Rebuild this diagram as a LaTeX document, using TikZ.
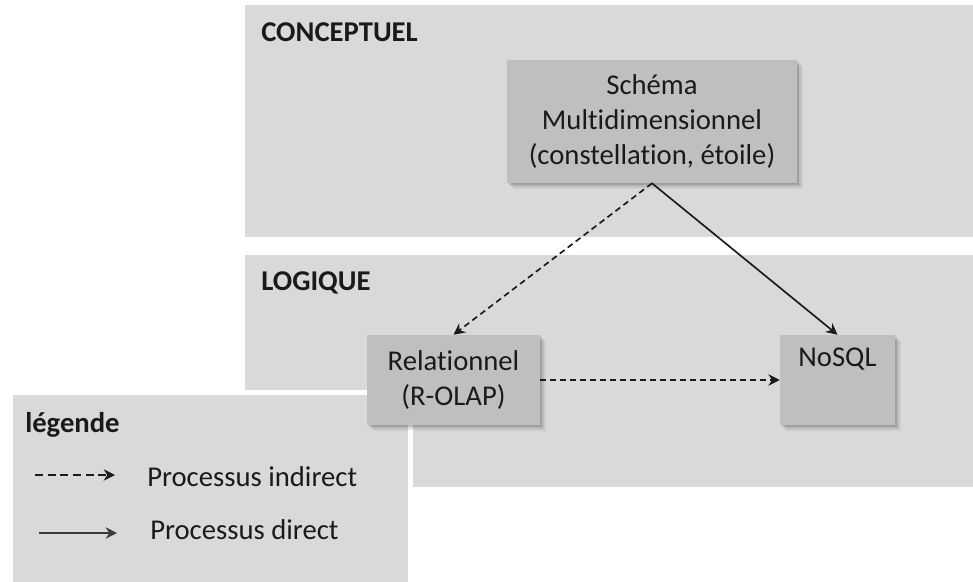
\documentclass[tikz,border=0pt]{standalone}
\usepackage{fontspec}
\setmainfont[Ligatures=NoCommon]{Carlito}
\usetikzlibrary{arrows.meta,shadows}

\definecolor{panelgray}{HTML}{D9D9D9}
\definecolor{boxgray}{HTML}{BFBFBF}
\definecolor{ink}{HTML}{1A1A1A}

\begin{document}
\begin{tikzpicture}[x=0.75pt,y=-0.75pt,
  panel/.style={fill=panelgray},
  paneltitle/.style={anchor=west,inner sep=0pt,text=ink,
    font=\fontsize{21.5}{26}\selectfont\bfseries},
  softshadow/.style={
    general shadow={fill=black,opacity=0.05,shadow xshift=4.2pt,shadow yshift=-4.2pt},
    general shadow={fill=black,opacity=0.09,shadow xshift=3pt,shadow yshift=-3pt},
    general shadow={fill=black,opacity=0.14,shadow xshift=1.8pt,shadow yshift=-1.8pt}},
  model/.style={fill=boxgray,draw=none,inner sep=0pt,align=center,text=ink,
    font=\fontsize{21.5}{26.25}\selectfont,softshadow},
  legendtext/.style={anchor=west,inner sep=0pt,text=ink,
    font=\fontsize{21.5}{26}\selectfont},
  tip/.style={-{Stealth[length=8.5pt,width=8.5pt,inset=2.8pt]}},
  direct/.style={tip,line width=1.25pt,draw=ink},
  indirect/.style={tip,line width=1.25pt,draw=ink,dash pattern=on 4.5pt off 3pt},
]
\useasboundingbox (0,0) rectangle (973,581);

% level panels
\path[panel] (245,5) rectangle (973,237);
\path[panel] (245,255) rectangle (973,487);
% legend panel, cut out of the LOGIQUE panel by a white rim
\path[panel,draw=white,line width=3.75pt] (10,392.5) rectangle (410,600);

\node[paneltitle] (tconc) at (261,32) {CONCEPTUEL};
\node[paneltitle] (tlog) at (261,283) {LOGIQUE};
\node[paneltitle] (tleg) at (25,425) {légende};

% models
\node[model,minimum width=217.5pt,minimum height=92.25pt] (schema) at (652,121.5)
  {Schéma\\Multidimensionnel\\(constellation, étoile)};
\node[model,minimum width=129.75pt,minimum height=67.5pt] (rel) at (453.5,380)
  {Relationnel\\(R-OLAP)};
\node[model,minimum width=86.25pt,minimum height=67.5pt] (nosql) at (837.5,380)
  {NoSQL\\\strut};

% transformations
\draw[indirect] (schema.south) -- (rel.north);
\draw[direct] (schema.south) -- (nosql.north);
\draw[indirect] (rel.east) -- (nosql.west);

% legend
\coordinate (li1) at (35,475);
\coordinate (li2) at (115,475);
\coordinate (ld1) at (39,533);
\coordinate (ld2) at (117,533);
\draw[indirect,line width=1pt,dash pattern=on 6pt off 3.5pt] (li1) -- (li2);
\draw[direct,line width=1.5pt,draw=ink!85] (ld1) -- (ld2);
\node[legendtext] (lind) at (147,477) {Processus indirect};
\node[legendtext] (ldir) at (150,530) {Processus direct};
\end{tikzpicture}
\end{document}
